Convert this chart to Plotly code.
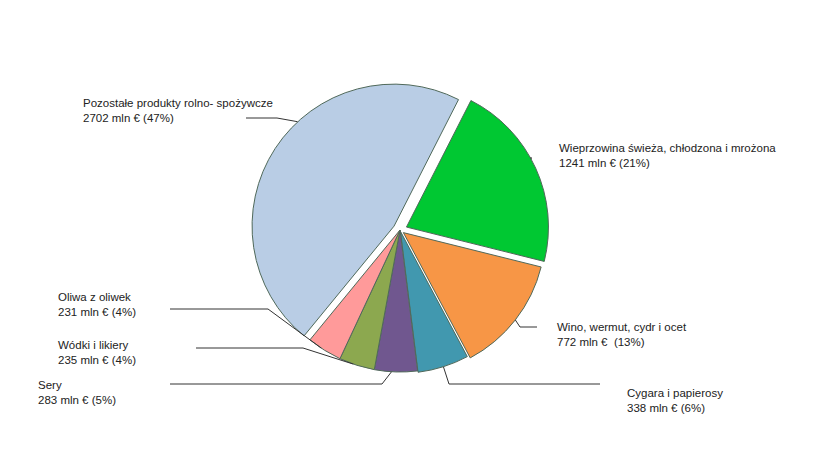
import math
import plotly.graph_objects as go

# data (mln EUR)
categories = [
    "Wieprzowina świeża, chłodzona i mrożona",
    "Wino, wermut, cydr i ocet",
    "Cygara i papierosy",
    "Sery",
    "Wódki i likiery",
    "Oliwa z oliwek",
    "Pozostałe produkty rolno- spożywcze",
]
values = [1241, 772, 338, 283, 235, 231, 2702]
colors = ["#00C832", "#F79646", "#4198AF", "#70578F", "#8CA84F", "#FF9A9A", "#B9CDE5"]
pulls = [0.05, 0.03, 0.01, 0, 0, 0, 0.05]

W, H = 820, 461
OFF = 8  # page margin of the html body
CX, CY, R = 400, 230, 142
ROT = 27

# label placement (screen pixels): text left/top, leader far end, elbow,
# and where along the slice the leader touches it
label_pos = [
    dict(tx=557, ty=140, far=(531, 157), elbow=(531, 157), frac=0.45),
    dict(tx=555, ty=319, far=(537, 327), elbow=(520, 327), frac=0.5),
    dict(tx=625, ty=385, far=(600, 384), elbow=(449, 384), frac=0.5),
    dict(tx=36, ty=377, far=(170, 384), elbow=(382, 384), frac=0.6),
    dict(tx=56, ty=337, far=(196, 348), elbow=(303, 348), frac=0.6),
    dict(tx=56, ty=289, far=(170, 309), elbow=(268, 309), frac=0.6),
    dict(tx=81, ty=95, far=(246, 118), elbow=(277, 118), frac=0.58),
]


def px(x):
    return (x - OFF) / W


def py(y):
    return 1 - (y - OFF) / H


maxpull = max(pulls)
half = R * (1 + maxpull)

fig = go.Figure(go.Pie(
    values=values,
    labels=categories,
    sort=False,
    direction="clockwise",
    rotation=ROT,
    pull=pulls,
    marker=dict(colors=colors, line=dict(color="#50695A", width=1)),
    textinfo="none",
    hoverinfo="skip",
    showlegend=False,
    domain=dict(x=[px(CX - half), px(CX + half)],
                y=[py(CY + half), py(CY - half)]),
))

total = sum(values)
start = ROT
shapes = []
annotations = []
for name, v, p, pos in zip(categories, values, pulls, label_pos):
    span = 360 * v / total
    ang = math.radians(start + span * pos["frac"])
    start += span
    rr = R * (1 + p)
    ax = CX + rr * math.sin(ang)
    ay = CY - rr * math.cos(ang)
    ex, ey = pos["elbow"]
    fx, fy = pos["far"]
    for (x0, y0, x1, y1) in [(ax, ay, ex, ey), (ex, ey, fx, fy)]:
        shapes.append(dict(type="line", xref="paper", yref="paper",
                           x0=px(x0), y0=py(y0), x1=px(x1), y1=py(y1),
                           line=dict(color="#333333", width=1)))
    pct = round(100 * v / total)
    sep = "\u00a0 " if name.startswith("Wino") else " "
    annotations.append(dict(
        x=px(pos["tx"]), y=py(pos["ty"]), xref="paper", yref="paper",
        xanchor="left", yanchor="top", align="left", showarrow=False,
        text=f"{name}<br>{v} mln €{sep}({pct}%)",
        font=dict(family="Liberation Sans, Arial", size=11.5, color="#222222"),
    ))

fig.update_layout(
    width=W, height=H,
    margin=dict(l=0, r=0, t=0, b=0),
    paper_bgcolor="white",
    plot_bgcolor="white",
    shapes=shapes,
    annotations=annotations,
)

fig.write_html("out.html")
